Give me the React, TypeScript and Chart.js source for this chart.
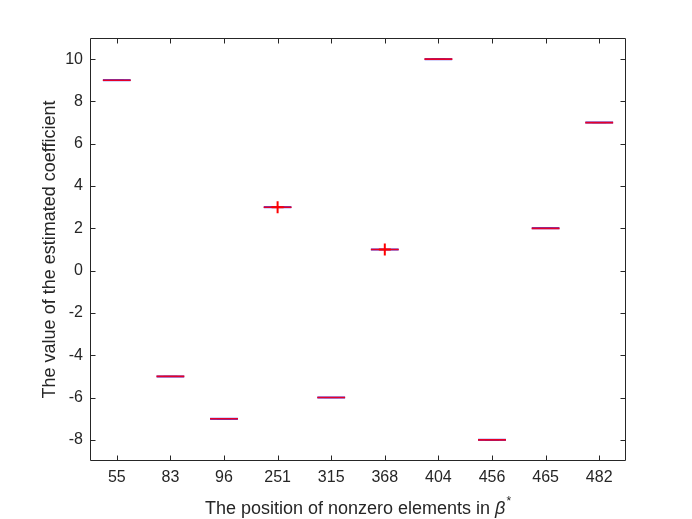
import React, { useEffect, useRef } from "react";
import { Chart, registerables } from "chart.js";

Chart.register(...registerables);

const categories = ["55", "83", "96", "251", "315", "368", "404", "456", "465", "482"];
const medians = [9, -5, -7, 3, -6, 1, 10, -8, 2, 7];
const q1 = [8.94, -5.06, -7.06, 2.94, -6.06, 0.94, 9.94, -8.06, 1.94, 6.94];
const q3 = [9.06, -4.94, -6.94, 3.06, -5.94, 1.06, 10.06, -7.94, 2.06, 7.06];
const outliers: (number | null)[] = [null, null, null, 3, null, 1, null, null, null, null];
const yTicks = [-8, -6, -4, -2, 0, 2, 4, 6, 8, 10];
const yMin = -9;
const yMax = 11;
const yTitle = "The value of the estimated coefficient";
const xTitleMain = "The position of nonzero elements in ";
const xTitleSym = "β";
const xTitleSup = "*";

const AXIS = "#262626";
const FONT = '"Liberation Sans", Arial, Helvetica, sans-serif';

const framePlugin = {
  id: "frame",
  afterDraw(chart: any) {
    const { ctx, chartArea } = chart;
    const { left, right, top, bottom } = chartArea;
    const xs = chart.scales.x;
    const ys = chart.scales.y;
    ctx.save();
    ctx.strokeStyle = AXIS;
    ctx.lineWidth = 1;
    const L = Math.round(left) + 0.5;
    const R = Math.round(right) - 0.5;
    const T = Math.round(top) + 0.5;
    const B = Math.round(bottom) - 0.5;
    ctx.beginPath();
    ctx.rect(L, T, R - L, B - T);
    ctx.stroke();
    const tl = 5;
    ctx.beginPath();
    yTicks.forEach((v) => {
      const y = Math.round(ys.getPixelForValue(v)) + 0.5;
      ctx.moveTo(L, y);
      ctx.lineTo(L + tl, y);
      ctx.moveTo(R, y);
      ctx.lineTo(R - tl, y);
    });
    categories.forEach((_, i) => {
      const x = Math.round(xs.getPixelForTick(i)) + 0.5;
      ctx.moveTo(x, B);
      ctx.lineTo(x, B - tl);
      ctx.moveTo(x, T);
      ctx.lineTo(x, T + tl);
    });
    ctx.stroke();

    // titles
    ctx.fillStyle = AXIS;
    ctx.font = `18px ${FONT}`;
    ctx.save();
    ctx.translate(50, (top + bottom) / 2);
    ctx.rotate(-Math.PI / 2);
    ctx.textAlign = "center";
    ctx.textBaseline = "middle";
    ctx.fillText(yTitle, 0, 0);
    ctx.restore();

    const mainW = ctx.measureText(xTitleMain).width;
    ctx.font = `italic 18px ${FONT}`;
    const symW = ctx.measureText(xTitleSym).width;
    ctx.font = `12px ${FONT}`;
    const supW = ctx.measureText(xTitleSup).width;
    const total = mainW + symW + supW + 1;
    let x0 = (left + right) / 2 - total / 2;
    const base = 514;
    ctx.textAlign = "left";
    ctx.textBaseline = "alphabetic";
    ctx.font = `18px ${FONT}`;
    ctx.fillText(xTitleMain, x0, base);
    x0 += mainW;
    ctx.font = `italic 18px ${FONT}`;
    ctx.fillText(xTitleSym, x0, base);
    x0 += symW + 1;
    ctx.font = `12px ${FONT}`;
    ctx.fillText(xTitleSup, x0, base - 9);
    ctx.restore();
  },
};

export default function App() {
  const ref = useRef<HTMLCanvasElement | null>(null);
  useEffect(() => {
    document.body.style.margin = "0";
    const canvas = ref.current;
    if (!canvas) return;
    const chart = new Chart(canvas, {
      type: "bar",
      data: {
        labels: categories,
        datasets: [
          {
            type: "line",
            label: "caps",
            data: medians,
            showLine: false,
            pointStyle: "line",
            pointRadius: 7,
            pointBorderColor: "#000000",
            pointBorderWidth: 1,
            order: 4,
          } as any,
          {
            type: "bar",
            label: "box",
            data: categories.map((_, i) => [q1[i], q3[i]]),
            backgroundColor: "rgba(110,110,235,0.35)",
            borderColor: "rgba(40,40,230,0.8)",
            borderWidth: 1,
            borderSkipped: false,
            barPercentage: 0.52,
            categoryPercentage: 1,
            order: 3,
          },
          {
            type: "line",
            label: "median",
            data: medians,
            showLine: false,
            pointStyle: "line",
            pointRadius: 14,
            pointBorderColor: "rgb(230,0,40)",
            pointBorderWidth: 1.6,
            order: 2,
          } as any,
          {
            type: "line",
            label: "outliers",
            data: outliers,
            showLine: false,
            pointStyle: "cross",
            pointRadius: 6,
            pointBorderColor: "rgb(255,0,0)",
            pointBorderWidth: 2,
            order: 1,
          } as any,
        ],
      },
      options: {
        animation: false,
        responsive: false,
        devicePixelRatio: 1,
        layout: { padding: { top: 38, right: 66, left: 0, bottom: 0 } },
        plugins: { legend: { display: false }, tooltip: { enabled: false } },
        scales: {
          x: {
            type: "category",
            offset: true,
            grid: { display: false, drawTicks: false, tickLength: 0 },
            border: { display: false },
            ticks: { color: AXIS, font: { family: FONT, size: 16 }, padding: 7, maxRotation: 0 },
            afterFit: (s: any) => {
              s.height = 58;
            },
          },
          y: {
            type: "linear",
            min: yMin,
            max: yMax,
            grid: { display: false, drawTicks: false, tickLength: 0 },
            border: { display: false },
            ticks: { color: AXIS, font: { family: FONT, size: 16 }, padding: 7 },
            afterBuildTicks: (s: any) => {
              s.ticks = yTicks.map((v) => ({ value: v }));
            },
            afterFit: (s: any) => {
              s.width = 90;
            },
          },
        },
      },
      plugins: [framePlugin],
    });
    return () => chart.destroy();
  }, []);
  return (
    <div style={{ width: 692, height: 519, background: "#fff" }}>
      <canvas ref={ref} width={692} height={519} style={{ display: "block" }} />
    </div>
  );
}
